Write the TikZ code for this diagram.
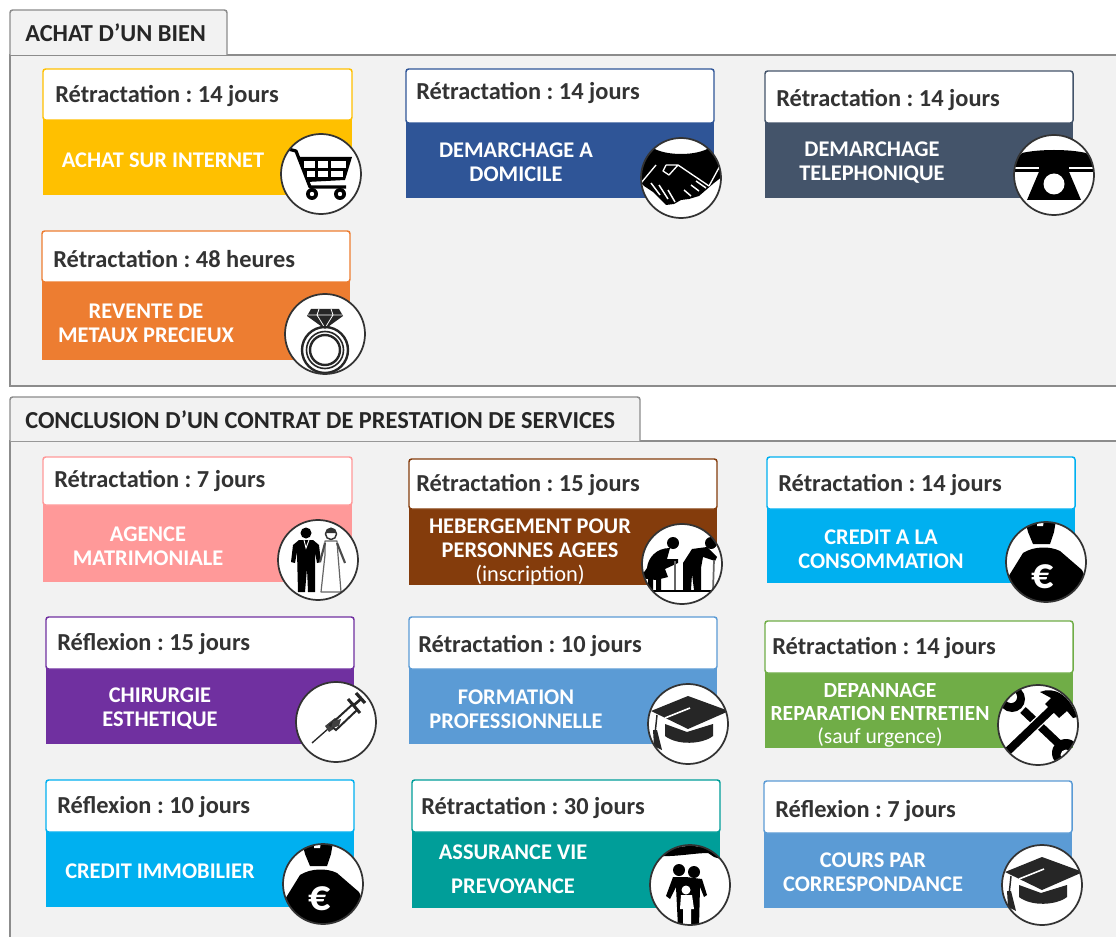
\documentclass[tikz,border=0pt]{standalone}
\usepackage{fontspec}
\setmainfont{Carlito}
\definecolor{panelbg}{HTML}{F2F2F2}
\definecolor{panelline}{HTML}{8C8C8C}
\definecolor{headtxt}{HTML}{333333}
\definecolor{cyellow}{HTML}{FFC000}
\definecolor{cblue}{HTML}{2F5597}
\definecolor{cslate}{HTML}{44546A}
\definecolor{corange}{HTML}{ED7D31}
\definecolor{cpink}{HTML}{FF9999}
\definecolor{cbrown}{HTML}{843C0C}
\definecolor{ccyan}{HTML}{00B0F0}
\definecolor{cpurple}{HTML}{7030A0}
\definecolor{csky}{HTML}{5B9BD5}
\definecolor{cgreen}{HTML}{70AD47}
\definecolor{cteal}{HTML}{009E99}
\tikzset{
  panel/.style={draw=panelline,fill=panelbg,line width=1.1pt},
  tabtxt/.style={anchor=west,font=\bfseries\fontsize{18.3}{20}\selectfont,text=black!85,inner sep=0pt},
  headlabel/.style={anchor=west,yshift=-0.75pt,font=\bfseries\frenchspacing\fontsize{18.3}{20}\selectfont,text=headtxt,inner sep=0pt},
  bodylabel/.style={font=\bfseries\fontsize{16.8}{18}\selectfont,text=white,align=center,inner sep=0pt},
  bodytight/.style={font=\bfseries\fontsize{16.8}{17.8}\selectfont,text=white,align=center,inner sep=0pt},
  bodysmall/.style={font=\bfseries\fontsize{16.2}{17.4}\selectfont,text=white,align=center,inner sep=0pt},
  ring/.style={draw=black!80,fill=white,line width=1.3pt},
}
% #1 x0, #2 y0, #3 x1, #4 ymid, #5 y1, #6 colour
\newcommand\card[6]{%
  \fill[#6] (#1,#4-3) rectangle (#3,#5);
  \draw[#6,fill=white,line width=1.1pt,rounded corners=2pt] (#1,#4) -- (#1,#2) -- (#3,#2) -- (#3,#4) -- cycle;
}
\newcommand\icon[3]{%
  \begin{scope}[shift={(#1,#2)}]
    \fill[white] (0,0) circle (40);
    \begin{scope}
      \clip (0,0) circle (40);
      #3
    \end{scope}
    \draw[ring,fill=none] (0,0) circle (40);
  \end{scope}
}
\newcommand\icart{%
  \draw[black,line width=2.4pt,line join=round] (-33,-25) -- (-25,-23) -- (-11,13) -- (25,13);
  \fill[black] (-23,-17) -- (31,-17) -- (24,6) -- (-14,8) -- cycle;
  \foreach \a/\b in {-17/-6,-3/7,10/25}{\fill[white] (\a,-13) rectangle (\b,-6);}
  \foreach \a/\b in {-14/-6,-3/7,10/22}{\fill[white] (\a,-3) rectangle (\b,3);}
  \foreach \a in {-9,19}{\fill[black] (\a,20) circle (6); \fill[white] (\a,20) circle (2.2);}
}
\newcommand\iring{%
  \fill[black!85] (-14,-25) -- (14,-25) -- (18,-18) -- (0,-5) -- (-18,-18) -- cycle;
  \draw[white,line width=.6pt] (-17,-19) -- (17,-19) (-6,-25) -- (-8,-19) -- (0,-6) -- (8,-19) -- (6,-25);
  \draw[black!85,line width=1.8pt] (0,16) circle (23);
  \draw[black!85,line width=1.2pt] (0,16) circle (18.5);
  \draw[black!85,line width=1.8pt] (0,16) circle (15);
}
\newcommand\ihands{%
  \fill[black] (-42,-10) -- (-28,-30) .. controls (-15,-22) and (15,-22) .. (28,-30) -- (42,-10) -- (42,-2) -- (33,5) -- (18,18) -- (8,21) -- (0,22) -- (-7,26) -- (-15,27) -- (-28,14) -- (-37,8) -- (-42,3) -- cycle;
  \fill[black] (-28,-30) -- (-34,-36) -- (-42,-22) -- (-42,-10) -- cycle;
  \fill[black] (28,-30) -- (34,-36) -- (42,-22) -- (42,-10) -- cycle;
  \draw[white,line width=1pt,line join=round] (-40,5) -- (-25,-13) (-15,-13) -- (-18,-7) -- (-12,-3) -- (-3,-13) -- (28,8) (-15,-13) -- (-3,-13);
  \draw[white,line width=1pt] (40,-14) -- (28,8);
  \foreach \a/\b/\c/\d in {-30/5/-21/17,-22/7/-13/21,-13/12/-6/24,3/12/10/18,10/7/18/13,15/3/25/10}{\draw[white,line width=1.1pt] (\a,\b) -- (\c,\d);}
}
\newcommand\iphone{%
  \fill[black] (-42,-12) -- (-32,-22) .. controls (-15,-26) and (15,-26) .. (32,-22) -- (42,-12) -- (42,-3) -- (-42,-3) -- cycle;
  \draw[white,line width=1.1pt] (-42,-7) -- (-15,-7) (15,-7) -- (42,-7);
  \fill[black] (-13,-8) -- (13,-8) -- (27,25) -- (-27,25) -- cycle;
  \fill[white] (0,9) circle (10.5);
}
\newcommand\icouple{%
  \fill[black] (-12,-27) circle (5.5);
  \fill[black] (-27,2) -- (-25,-15) -- (-19,-20) -- (-5,-20) -- (1,-15) -- (3,2) -- (-1,3) -- (-3,-8) -- (-3,32) -- (-10,32) -- (-11,8) -- (-13,32) -- (-20,32) -- (-21,-8) -- (-23,3) -- cycle;
  \draw[white,line width=.7pt] (-14,-20) -- (-12,-12) -- (-9,-20);
  \draw[black!80,line width=1.1pt] (13,-26) circle (5.5);
  \fill[black!80] (7.5,-27) arc (180:360:5.5) -- cycle;
  \draw[black!60,line width=.9pt,line join=round] (7,-19) -- (19,-19) -- (20,-5) -- (23,32) -- (3,32) -- (7,-5) -- cycle;
  \draw[black!70,line width=1.6pt] (7,-17) -- (2,2) (19,-17) -- (27,3);
}
\newcommand\ielders{%
  % woman
  \fill[black] (-9,-21) circle (6);
  \fill[black] (-12,-16) .. controls (-26,-16) and (-34,-6) .. (-35,4) -- (-42,14) -- (-26,16) -- (-14,13) -- (-17,5) -- (-4,-1) -- (-4,-5) -- (-15,-5) -- cycle;
  \fill[black] (-34,14) rectangle (-29,27) (-26,14) rectangle (-21,27);
  \draw[black!60,line width=1.3pt] (-7,-3) -- (-7,27);
  % man
  \fill[black] (29,-21) circle (6);
  \fill[black] (25,-17) -- (10,-15) -- (1,-1) -- (1,26) -- (9,26) -- (10,10) -- (12,26) -- (19,26) -- (19,4) -- (21,-7) -- (33,-3) -- (35,-7) -- (28,-14) -- cycle;
  \draw[black!60,line width=1.3pt] (32,-4) -- (31,27);
  \draw[black,line width=.8pt] (-42,27) -- (42,27);
}
\newcommand\ibag{%
  \fill[black] (-21,-42) -- (10,-42) -- (8,-30) -- (4,-18) -- (-13,-18) -- (-18,-30) -- cycle;
  \fill[white] (-9,-42) -- (-2,-42) -- (-3,-36) -- (-9,-36) -- cycle;
  \fill[black] (-42,22) -- (-36,12) -- (-23,-9) .. controls (-12,-16) and (4,-16) .. (14,-11) -- (36,8) -- (42,22) -- (42,42) -- (-42,42) -- cycle;
  \node[inner sep=0pt,text=white,font=\bfseries\fontsize{33}{33}\selectfont] at (-3,15) {€};
}
\newcommand\itools{%
  % wrench
  \draw[black,line width=6pt] (-15,-15) -- (22,20);
  \fill[black] (-26,-26) circle (13);
  \fill[black] (28,28) circle (14);
  \fill[white] (-27,-28) circle (6);
  \fill[white] (-36,-38) -- (-27,-28) -- (-36,-24) -- cycle;
  \fill[white] (28,30) circle (5.5);
  \fill[white] (38,42) -- (28,30) -- (18,44) -- cycle;
  % hammer
  \draw[white,line width=8pt] (-30,26) -- (16,-18);
  \draw[black,line width=6pt] (-30,26) -- (16,-18);
  \fill[black] (2,-33) .. controls (16,-39) and (32,-30) .. (39,-8) -- (35,-7) -- (29,-14) -- (21,-7) -- (7,-21) -- (13,-27) -- cycle;
}
\newcommand\isyringe{%
  \draw[black!85,line width=1pt] (-24,21) -- (-7,6);
  \fill[black!75] (-7,10) -- (-11,4) -- (-1,-4) -- (5,2) -- cycle;
  \draw[black!85,line width=1.5pt,fill=white] (-6,3) -- (17,-18) -- (21,-12) -- (0,8) -- cycle;
  \fill[black!75] (-5,6) -- (-3,-1) -- (5,-3) -- (3,4) -- cycle;
  \draw[black!85,line width=2.2pt] (12,-23) -- (24,-9);
  \draw[black!85,line width=2pt] (18,-17) -- (25,-23);
  \draw[black!85,line width=2.4pt] (20,-29) -- (29,-19);
}
\newcommand\icap{%
  \fill[black!85] (-37,-13) -- (0,-28) -- (41,-13) -- (0,5) -- cycle;
  \draw[white,line width=1.2pt] (-23,-6) -- (2,-16);
  \fill[black!85] (-23,0) -- (-1,8) -- (25,0) -- (25,12) .. controls (15,20) and (-10,22) .. (-23,12) -- cycle;
  \draw[black!85,line width=1.1pt] (-31,-9) -- (-33,10);
  \fill[black!85] (-35,6) -- (-31,6) -- (-26,26) -- (-34,22) -- cycle;
}
\newcommand\ifamily{%
  \fill[black] (-32,-29) .. controls (-20,-36) and (-10,-39) .. (0,-39) .. controls (15,-39) and (26,-34) .. (34,-25) -- (24,-28) -- (18,-32) .. controls (5,-32) and (-15,-28) .. (-32,-29) -- cycle;
  \fill[black] (-11,-15) circle (6);
  \fill[black] (4,-13) circle (6);
  \fill[black] (-17,-8) -- (-4,-8) -- (12,-6) -- (17,10) -- (14,12) -- (10,2) -- (9,42) -- (-12,42) -- (-14,2) -- (-20,14) -- (-24,11) -- cycle;
  \fill[white] (-4,5) circle (4.5);
  \fill[white] (-9,10) -- (2,10) -- (4,24) -- (1,24) -- (1,42) -- (-7,42) -- (-7,24) -- (-10,24) -- cycle;
}
\begin{document}
\begin{tikzpicture}[x=0.75pt,y=-0.75pt]
\useasboundingbox (0,0) rectangle (1116,937);
\fill[white] (0,0) rectangle (1116,937);
% panels
\draw[panel] (10,55) rectangle (1130,386);
\draw[panel,rounded corners=2pt] (10,55) -- (10,10) -- (227,10) -- (227,55);
\node[tabtxt] (tabA) at (25,33) {ACHAT D’UN BIEN};
\draw[panel] (10,441) rectangle (1130,950);
\draw[panel,rounded corners=2pt] (10,441) -- (10,397) -- (640,397) -- (640,441);
\node[tabtxt] (tabB) at (25,420) {CONCLUSION D’UN CONTRAT DE PRESTATION DE SERVICES};
% card 1
\card{43}{69}{352}{120}{195}{cyellow}
\node[headlabel] (h1) at (55,95) {Rétractation : 14 jours};
\node[bodylabel] (b1) at (163,160) {ACHAT SUR INTERNET};
\icon{321}{174}{\icart}
% card 2
\card{406}{69}{714}{123}{198}{cblue}
\node[headlabel] (h2) at (416,92) {Rétractation : 14 jours};
\node[bodylabel] (b2) at (516,162) {DEMARCHAGE A\\DOMICILE};
\icon{681}{178}{\ihands}
% card 3
\card{765}{71}{1073}{123}{198}{cslate}
\node[headlabel] (h3) at (776,99) {Rétractation : 14 jours};
\node[bodylabel] (b3) at (872,163) {DEMARCHAGE\\TELEPHONIQUE};
\icon{1054}{175}{\iphone}
% card 4
\card{42}{231}{350}{282}{360}{corange}
\node[headlabel] (h4) at (53,258) {Rétractation : 48 heures};
\node[bodylabel] (b4) at (146,323) {REVENTE DE\\METAUX PRECIEUX};
\icon{325}{334}{\iring}
% card 5
\card{43}{457}{352}{505}{582}{cpink}
\node[headlabel] (h5) at (54,480) {Rétractation : 7 jours};
\node[bodylabel] (b5) at (148,546) {AGENCE\\MATRIMONIALE};
\icon{318}{560}{\icouple}
% card 6
\card{409}{459}{717}{509}{585}{cbrown}
\node[headlabel] (h6) at (416,484) {Rétractation : 15 jours};
\node[bodytight] (b6) at (530,552) {HEBERGEMENT POUR\\PERSONNES AGEES\\{\mdseries (inscription)}};
\icon{682}{564}{\ielders}
% card 7
\card{767}{457}{1075}{509}{583}{ccyan}
\node[headlabel] (h7) at (778,484) {Rétractation : 14 jours};
\node[bodylabel] (b7) at (881,549) {CREDIT A LA\\CONSOMMATION};
\icon{1046}{562}{\ibag}
% card 8
\card{46}{617}{354}{669}{744}{cpurple}
\node[headlabel] (h8) at (57,643) {Réflexion : 15 jours};
\node[bodylabel] (b8) at (160,709) {CHIRURGIE\\ESTHETIQUE};
\icon{336}{722}{\isyringe}
% card 9
\card{409}{617}{717}{669}{744}{csky}
\node[headlabel] (h9) at (418,645) {Rétractation : 10 jours};
\node[bodylabel] (b9) at (516,709) {FORMATION\\PROFESSIONNELLE};
\icon{688}{724}{\icap}
% card 10
\card{765}{621}{1073}{673}{748}{cgreen}
\node[headlabel] (h10) at (772,647) {Rétractation : 14 jours};
\node[bodysmall] (b10) at (880,715) {DEPANNAGE\\REPARATION ENTRETIEN\\{\mdseries (sauf urgence)}};
\icon{1038}{725}{\itools}
% card 11
\card{46}{780}{354}{832}{907}{ccyan}
\node[headlabel] (h11) at (57,806) {Réflexion : 10 jours};
\node[bodylabel] (b11) at (160,871) {CREDIT IMMOBILIER};
\icon{323}{884}{\ibag}
% card 12
\card{412}{780}{720}{832}{908}{cteal}
\node[headlabel] (h12) at (421,807) {Rétractation : 30 jours};
\node[bodylabel] (b12a) at (513,852) {ASSURANCE VIE};
\node[bodylabel] (b12b) at (513,886) {PREVOYANCE};
\icon{690}{885}{\ifamily}
% card 13
\card{764}{781}{1072}{833}{908}{csky}
\node[headlabel] (h13) at (775,810) {Réflexion : 7 jours};
\node[bodylabel] (b13) at (873,872) {COURS PAR\\CORRESPONDANCE};
\icon{1042}{885}{\icap}
\end{tikzpicture}
\end{document}
